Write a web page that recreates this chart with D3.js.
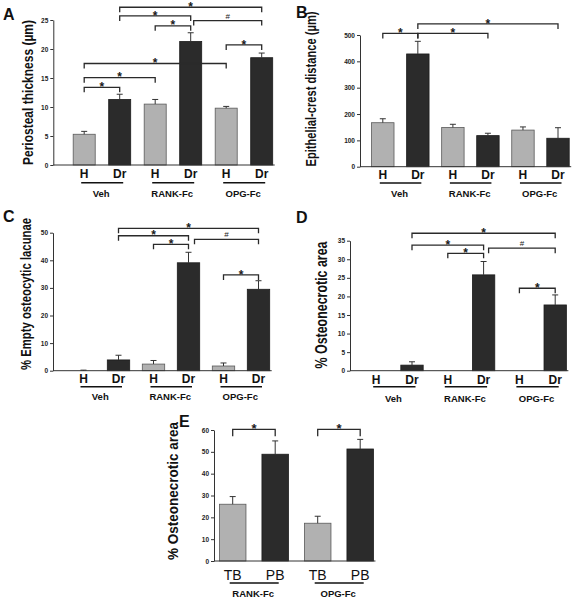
<!DOCTYPE html>
<html><head><meta charset="utf-8">
<script src="https://cdn.jsdelivr.net/npm/d3@7"></script>
<style>
body{margin:0;background:#fff}
svg{display:block}
text{font-family:"Liberation Sans",Arial,Helvetica,sans-serif}
</style>
</head><body>
<svg id="fig" width="583" height="599"></svg>
<script>
// ---------------- DATA ----------------
const treatmentGroups = ["Veh", "RANK-Fc", "OPG-Fc"];
const conditions = ["H", "Dr", "H", "Dr", "H", "Dr"];

// A: periosteal thickness (µm)
const thicknessMean = [5.3, 11.3, 10.5, 21.3, 9.8, 18.5];
const thicknessErr  = [0.5, 0.9, 0.8, 1.5, 0.3, 0.8];
const thicknessTicks = [0, 5, 10, 15, 20, 25];
const thicknessBrackets = [
  {from: 0, to: 1, y: 13.4, mark: "*"},
  {from: 0, to: 2, y: 15.05, mark: "*"},
  {from: 0, to: 4, y: 17.5, mark: "*"},
  {from: 2, to: 3, y: 24.0, mark: "*"},
  {from: 1, to: 3, y: 25.7, mark: "*"},
  {from: 1, to: 5, y: 27.2, mark: "*"},
  {from: 3, to: 5, y: 24.9, mark: "#"},
  {from: 4, to: 5, y: 20.7, mark: "*"}
];

// B: epithelial-crest distance (µm)
const crestMean = [167, 428, 149, 118, 139, 108];
const crestErr  = [15, 48, 12, 9, 12, 40];
const crestTicks = [0, 100, 200, 300, 400, 500];
const crestBrackets = [
  {from: 0, to: 1, y: 506, mark: "*"},
  {from: 1, to: 3, y: 506, mark: "*"},
  {from: 1, to: 5, y: 542, mark: "*"}
];

// C: % empty osteocytic lacunae
const lacunaeMean = [0, 3.9, 2.4, 39.1, 1.7, 29.5];
const lacunaeErr  = [0.2, 1.7, 1.3, 3.8, 1.1, 3.1];
const lacunaeTicks = [0, 10, 20, 30, 40, 50];
const lacunaeBrackets = [
  {from: 1, to: 5, y: 51.6, mark: "*"},
  {from: 1, to: 3, y: 48.9, mark: "*"},
  {from: 2, to: 3, y: 45.8, mark: "*"},
  {from: 3, to: 5, y: 47.6, mark: "#"},
  {from: 4, to: 5, y: 34.7, mark: "*"}
];

// D: % osteonecrotic area
const necroticMean = [0, 1.5, 0, 25.8, 0, 17.7];
const necroticErr  = [0, 0.9, 0, 3.6, 0, 2.7];
const necroticTicks = [0, 5, 10, 15, 20, 25, 30, 35];
const necroticBrackets = [
  {from: 1, to: 5, y: 37.0, mark: "*"},
  {from: 1, to: 3, y: 33.8, mark: "*"},
  {from: 2, to: 3, y: 31.6, mark: "*"},
  {from: 3, to: 5, y: 33.0, mark: "#"},
  {from: 4, to: 5, y: 22.2, mark: "*"}
];

// E: % osteonecrotic area by bone site
const siteGroups = ["RANK-Fc", "OPG-Fc"];
const sites = ["TB", "PB", "TB", "PB"];
const siteMean = [26.0, 48.9, 17.3, 51.3];
const siteErr  = [3.5, 6.1, 3.2, 4.4];
const siteTicks = [0, 10, 20, 30, 40, 50, 60];
const siteBrackets = [
  {from: 0, to: 1, y: 60.3, mark: "*"},
  {from: 2, to: 3, y: 60.3, mark: "*"}
];

// ---------------- PANELS (data + layout) ----------------
const LIGHT = "#b1b1b1", DARK = "#2b2b2b";
const panels = [
  {letter: "A", label: "Periosteal thickness (µm)", mean: thicknessMean, err: thicknessErr,
   ticks: thicknessTicks, brackets: thicknessBrackets, cats: conditions, groups: treatmentGroups,
   shadeDomain: ["H", "Dr"],
   L: {axisX: 53.3, y0: 165, yTop: 20, xFirst: 84.2, step: 35.5, pad: 0.38, hashNudge: 3,
       letterX: 3, letterY: 20, labX: 33, labY: 92.5, labLen: 145, labSize: 12, labScale: 1.17,
       hY: 178, ulY: 182.7, gY: 197, catSize: 12, catWeight: "bold", leg: 5, starSize: 12}},
  {letter: "B", label: "Epithelial-crest distance (µm)", mean: crestMean, err: crestErr,
   ticks: crestTicks, brackets: crestBrackets, cats: conditions, groups: treatmentGroups,
   shadeDomain: ["H", "Dr"],
   L: {axisX: 360, y0: 166.7, yTop: 35, xFirst: 382.8, step: 35.04, pad: 0.36, hashNudge: 0,
       letterX: 296, letterY: 18, labX: 316, labY: 89, labLen: 155, labSize: 11.1, labScale: 1.25,
       hY: 179, ulY: 183, gY: 197, catSize: 12, catWeight: "bold", leg: 5, starSize: 12}},
  {letter: "C", label: "% Empty osteocytic lacunae", mean: lacunaeMean, err: lacunaeErr,
   ticks: lacunaeTicks, brackets: lacunaeBrackets, cats: conditions, groups: treatmentGroups,
   shadeDomain: ["H", "Dr"],
   L: {axisX: 53, y0: 370.7, yTop: 232.7, xFirst: 83.5, step: 35, pad: 0.36, hashNudge: 6,
       letterX: 3, letterY: 222, labX: 30.5, labY: 294, labLen: 152, labSize: 11.3, labScale: 1.24,
       hY: 382.5, ulY: 386.7, gY: 400, catSize: 12, catWeight: "bold", leg: 5, starSize: 12}},
  {letter: "D", label: "% Osteonecrotic area", mean: necroticMean, err: necroticErr,
   ticks: necroticTicks, brackets: necroticBrackets, cats: conditions, groups: treatmentGroups,
   shadeDomain: ["H", "Dr"],
   L: {axisX: 350, y0: 370.7, yTop: 240.7, xFirst: 376.2, step: 35.8, pad: 0.375, hashNudge: 5,
       letterX: 296, letterY: 223, labX: 327, labY: 305, labLen: 127, labSize: 12.4, labScale: 1.28,
       hY: 384, ulY: 386.7, gY: 401.5, catSize: 12, catWeight: "bold", leg: 5, starSize: 12}},
  {letter: "E", label: "% Osteonecrotic area", mean: siteMean, err: siteErr,
   ticks: siteTicks, brackets: siteBrackets, cats: sites, groups: siteGroups,
   shadeDomain: ["TB", "PB"],
   L: {axisX: 214, y0: 561, yTop: 430, xFirst: 232.7, step: 42.5, pad: 0.376, hashNudge: 0,
       letterX: 179, letterY: 427, labX: 177.5, labY: 491, labLen: 138, labSize: 13.4, labScale: 1.05,
       hY: 580, ulY: 583, gY: 597, catSize: 14, catWeight: "normal", leg: 7, starSize: 13}}
];

const svg = d3.select("#fig");

function drawPanel(p) {
  const L = p.L;
  const n = p.mean.length;
  const g = svg.append("g").attr("class", "panel-" + p.letter);

  const x = d3.scaleBand().domain(d3.range(n))
    .range([L.xFirst - L.step / 2, L.xFirst + (n - 0.5) * L.step])
    .paddingInner(L.pad).paddingOuter(L.pad / 2);
  const yMax = p.ticks[p.ticks.length - 1];
  const y = d3.scaleLinear().domain([0, yMax]).range([L.y0, L.yTop]);
  const cx = i => x(i) + x.bandwidth() / 2;
  const shade = d3.scaleOrdinal().domain(p.shadeDomain).range([LIGHT, DARK]);

  // bars
  g.selectAll("rect.bar").data(p.mean).join("rect")
    .attr("class", "bar")
    .attr("x", (d, i) => x(i))
    .attr("y", d => y(d))
    .attr("width", x.bandwidth())
    .attr("height", d => y(0) - y(d))
    .attr("fill", (d, i) => shade(p.cats[i]))
    .attr("stroke", (d, i) => p.cats[i] === p.shadeDomain[0] ? "#5a5a5a" : "#1c1c1c")
    .attr("stroke-width", 0.8);

  // error bars (upper only)
  const eb = g.selectAll("g.err").data(p.mean.map((m, i) => ({m, e: p.err[i], i})).filter(d => d.e > 0))
    .join("g").attr("class", "err");
  eb.append("line")
    .attr("x1", d => cx(d.i)).attr("x2", d => cx(d.i))
    .attr("y1", d => y(d.m)).attr("y2", d => y(d.m + d.e))
    .attr("stroke", "#333").attr("stroke-width", 1);
  eb.append("line")
    .attr("x1", d => cx(d.i) - 3).attr("x2", d => cx(d.i) + 3)
    .attr("y1", d => y(d.m + d.e)).attr("y2", d => y(d.m + d.e))
    .attr("stroke", "#333").attr("stroke-width", 1);

  // y axis
  const axis = d3.axisLeft(y).tickValues(p.ticks).tickSize(3).tickSizeOuter(0).tickPadding(2)
    .tickFormat(d3.format("d"));
  const ag = g.append("g").attr("transform", `translate(${L.axisX},0)`).call(axis);
  ag.select(".domain").attr("stroke", "#333").attr("stroke-width", 1);
  ag.selectAll(".tick line").attr("stroke", "#333");
  ag.selectAll(".tick text").attr("font-size", 6.5).attr("font-weight", "bold")
    .attr("fill", "#222").attr("font-family", "Liberation Sans, Arial, sans-serif");

  // x axis line
  g.append("line")
    .attr("x1", L.axisX).attr("x2", x(n - 1) + x.bandwidth() + 2)
    .attr("y1", y(0)).attr("y2", y(0))
    .attr("stroke", "#333").attr("stroke-width", 1);

  // significance brackets
  p.brackets.forEach(b => {
    const x1 = cx(b.from) + (b.mark === "#" ? L.hashNudge : 0);
    const x2 = cx(b.to);
    const yy = y(b.y);
    g.append("path")
      .attr("d", `M${x1},${yy + L.leg}V${yy}H${x2}V${yy + L.leg}`)
      .attr("fill", "none").attr("stroke", "#2a2a2a").attr("stroke-width", 1.3);
    const t = g.append("text")
      .attr("x", (x1 + x2) / 2)
      .attr("text-anchor", "middle")
      .attr("fill", "#1a1a1a")
      .text(b.mark);
    if (b.mark === "#") {
      t.attr("y", yy - 2).attr("font-size", 8);
    } else {
      t.attr("y", yy + 3.6).attr("font-size", L.starSize).attr("font-weight", "bold");
    }
  });

  // category labels
  g.selectAll("text.cat").data(p.cats).join("text")
    .attr("class", "cat")
    .attr("x", (d, i) => cx(i)).attr("y", L.hY)
    .attr("text-anchor", "middle")
    .attr("font-size", L.catSize).attr("font-weight", L.catWeight)
    .attr("fill", "#111")
    .text(d => d);

  // group underlines & labels
  p.groups.forEach((gr, k) => {
    const a = cx(2 * k) - 3, bb = cx(2 * k + 1) + 3.5;
    g.append("line").attr("x1", a).attr("x2", bb).attr("y1", L.ulY).attr("y2", L.ulY)
      .attr("stroke", "#111").attr("stroke-width", 1.4);
    g.append("text").attr("x", (a + bb) / 2 - 1).attr("y", L.gY)
      .attr("text-anchor", "middle").attr("font-size", 9.5).attr("font-weight", "bold")
      .attr("fill", "#111").text(gr);
  });

  // y label (fitted size, glyph height stretched to match the reference)
  g.append("text")
    .attr("transform", `translate(${L.labX},${L.labY}) rotate(-90) scale(1,${L.labScale})`)
    .attr("text-anchor", "middle")
    .attr("font-size", L.labSize).attr("font-weight", "bold")
    .attr("textLength", L.labLen).attr("lengthAdjust", "spacingAndGlyphs")
    .attr("fill", "#111")
    .text(p.label);

  // panel letter
  g.append("text").attr("x", L.letterX).attr("y", L.letterY)
    .attr("font-size", 16).attr("font-weight", "bold").attr("fill", "#111")
    .text(p.letter);
}

panels.forEach(drawPanel);
</script>
</body></html>
